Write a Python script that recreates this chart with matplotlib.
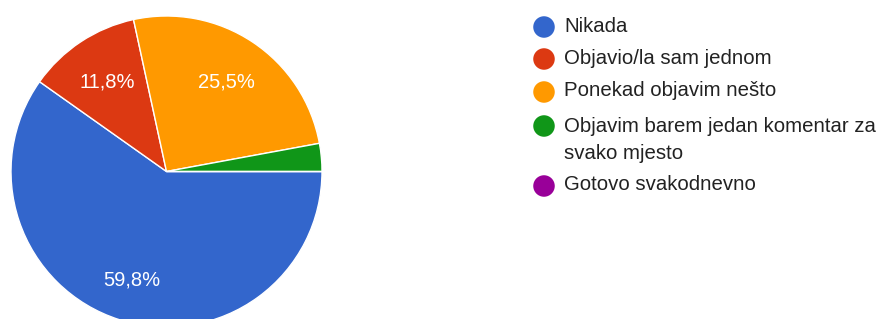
import matplotlib
matplotlib.use("Agg")
import matplotlib.pyplot as plt
import numpy as np

categories = ["Nikada", "Objavio/la sam jednom", "Ponekad objavim nešto",
              "Objavim barem jedan komentar za\nsvako mjesto", "Gotovo svakodnevno"]
values = [59.8, 11.8, 25.5, 2.9, 0.0]
colors = ["#3366cc", "#dc3912", "#ff9900", "#109618", "#990099"]
pct_labels = ["59,8%", "11,8%", "25,5%", "", ""]

plt.rcParams['font.family'] = ['Liberation Sans', 'DejaVu Sans']

W, H = 881, 319
fig = plt.figure(figsize=(W / 100, H / 100), dpi=100)
ax = fig.add_axes([0, 0, 1, 1])

cx, cy, r = 166.5, H - 171.5, 155.5
wedges, _ = ax.pie(values, colors=colors, startangle=0, counterclock=False,
                   center=(cx, cy), radius=r, normalize=True,
                   wedgeprops=dict(edgecolor='white', linewidth=1.0))
ax.set_xlim(0, W)
ax.set_ylim(0, H)
ax.set_aspect('equal', adjustable='box')
ax.axis('off')

label_dist = [0.735, 0.69, 0.69, 0.69, 0.69]
for w, lab, dd in zip(wedges, pct_labels, label_dist):
    if not lab:
        continue
    ang = np.deg2rad((w.theta1 + w.theta2) / 2)
    d = r * dd
    ax.text(cx + d * np.cos(ang), cy + d * np.sin(ang), lab, color='white',
            fontsize=14.5, ha='center', va='center')

# legend
ys = [26, 58, 91, 140, 185]
for y, c, t in zip(ys, colors, categories):
    my = 126 if '\n' in t else y + 1
    ax.scatter([544], [H - my], s=240, color=c, edgecolors='none')
    ax.text(564, H - y, t, fontsize=14.7, color='#222222', ha='left', va='center',
            linespacing=1.5)

fig.savefig("out.png", dpi=100)
